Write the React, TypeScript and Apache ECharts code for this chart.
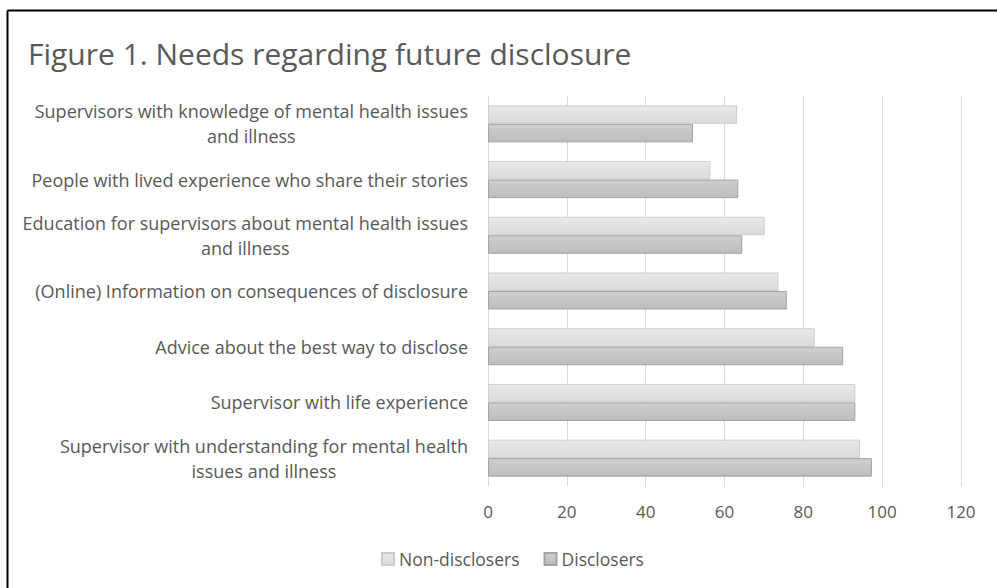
import React, { useEffect, useRef } from "react";
import * as echarts from "echarts";

const categories: string[] = [
  "Supervisors with knowledge of mental health issues\nand illness",
  "People with lived experience who share their stories",
  "Education for supervisors about mental health issues\nand illness",
  "(Online) Information on consequences of disclosure",
  "Advice about the best way to disclose",
  "Supervisor with life experience",
  "Supervisor with understanding for mental health\nissues and illness",
];
const nonDisclosers: number[] = [63.2, 56.4, 70.2, 73.7, 82.9, 93.2, 94.4];
const disclosers: number[] = [52.0, 63.5, 64.5, 75.8, 90.1, 93.2, 97.4];
const seriesNames: string[] = ["Non-disclosers", "Disclosers"];
const xTicks = { min: 0, max: 120, interval: 20 };

const FONT = "'Open Sans', 'Noto Sans', sans-serif";
const TXT = "#595959";

export default function App() {
  const ref = useRef<HTMLDivElement>(null);
  useEffect(() => {
    if (!ref.current) return;
    const chart = echarts.init(ref.current, null, { renderer: "svg" });
    const grad = (a: string, b: string) =>
      new echarts.graphic.LinearGradient(0, 0, 0, 1, [
        { offset: 0, color: a },
        { offset: 1, color: b },
      ]);
    chart.setOption({
      animation: false,
      backgroundColor: "#ffffff",
      textStyle: { fontFamily: FONT },
      title: {
        text: "Figure 1. Needs regarding future disclosure",
        left: 23,
        top: 33,
        textStyle: { fontFamily: FONT, fontSize: 30, fontWeight: "normal", color: TXT },
      },
      legend: {
        data: seriesNames,
        left: 376,
        top: 545,
        itemWidth: 12,
        itemHeight: 12,
        itemGap: 24,
        icon: "rect",
        textStyle: { fontFamily: FONT, fontSize: 17.5, color: TXT },
      },
      grid: { left: 488, right: 36, top: 96, bottom: 102, containLabel: false },
      xAxis: {
        type: "value",
        min: xTicks.min,
        max: xTicks.max,
        interval: xTicks.interval,
        axisLine: { show: false },
        axisTick: { show: false },
        axisLabel: { fontFamily: FONT, fontSize: 17, color: TXT, margin: 17 },
        splitLine: { show: true, lineStyle: { color: "#d9d9d9", width: 1 } },
      },
      yAxis: {
        type: "category",
        data: categories,
        inverse: true,
        axisLine: { show: true, lineStyle: { color: "#d9d9d9", width: 1 } },
        axisTick: { show: false },
        axisLabel: {
          margin: 20,
          fontFamily: FONT,
          fontSize: 18,
          color: TXT,
          lineHeight: 25,
          formatter: (v: string) =>
            v
              .split("\n")
              .map((l) => `{c|${l}}`)
              .join("\n"),
          rich: {
            c: { align: "center", fontFamily: FONT, fontSize: 18, color: TXT, lineHeight: 25 },
          },
        },
      },
      series: [
        {
          name: seriesNames[0],
          type: "bar",
          data: nonDisclosers,
          barWidth: 18.5,
          barGap: "0%",
          itemStyle: {
            color: grad("#e9e9e9", "#dadada"),
            borderColor: "#cecece",
            borderWidth: 1,
          },
        },
        {
          name: seriesNames[1],
          type: "bar",
          data: disclosers,
          barWidth: 18.5,
          barGap: "0%",
          itemStyle: {
            color: grad("#cfcfcf", "#bdbdbd"),
            borderColor: "#a3a3a3",
            borderWidth: 1,
          },
        },
      ],
      graphic: [
        {
          type: "line",
          shape: { x1: 7.5, y1: 10.5, x2: 7.5, y2: 600 },
          style: { stroke: "#000", lineWidth: 2 },
        },
        {
          type: "line",
          shape: { x1: 7.5, y1: 10.5, x2: 1000, y2: 10.5 },
          style: { stroke: "#000", lineWidth: 2 },
        },
      ],
    });
    return () => chart.dispose();
  }, []);
  return (
    <div
      ref={ref}
      style={{ position: "absolute", left: 0, top: 0, width: 997, height: 588 }}
    />
  );
}
